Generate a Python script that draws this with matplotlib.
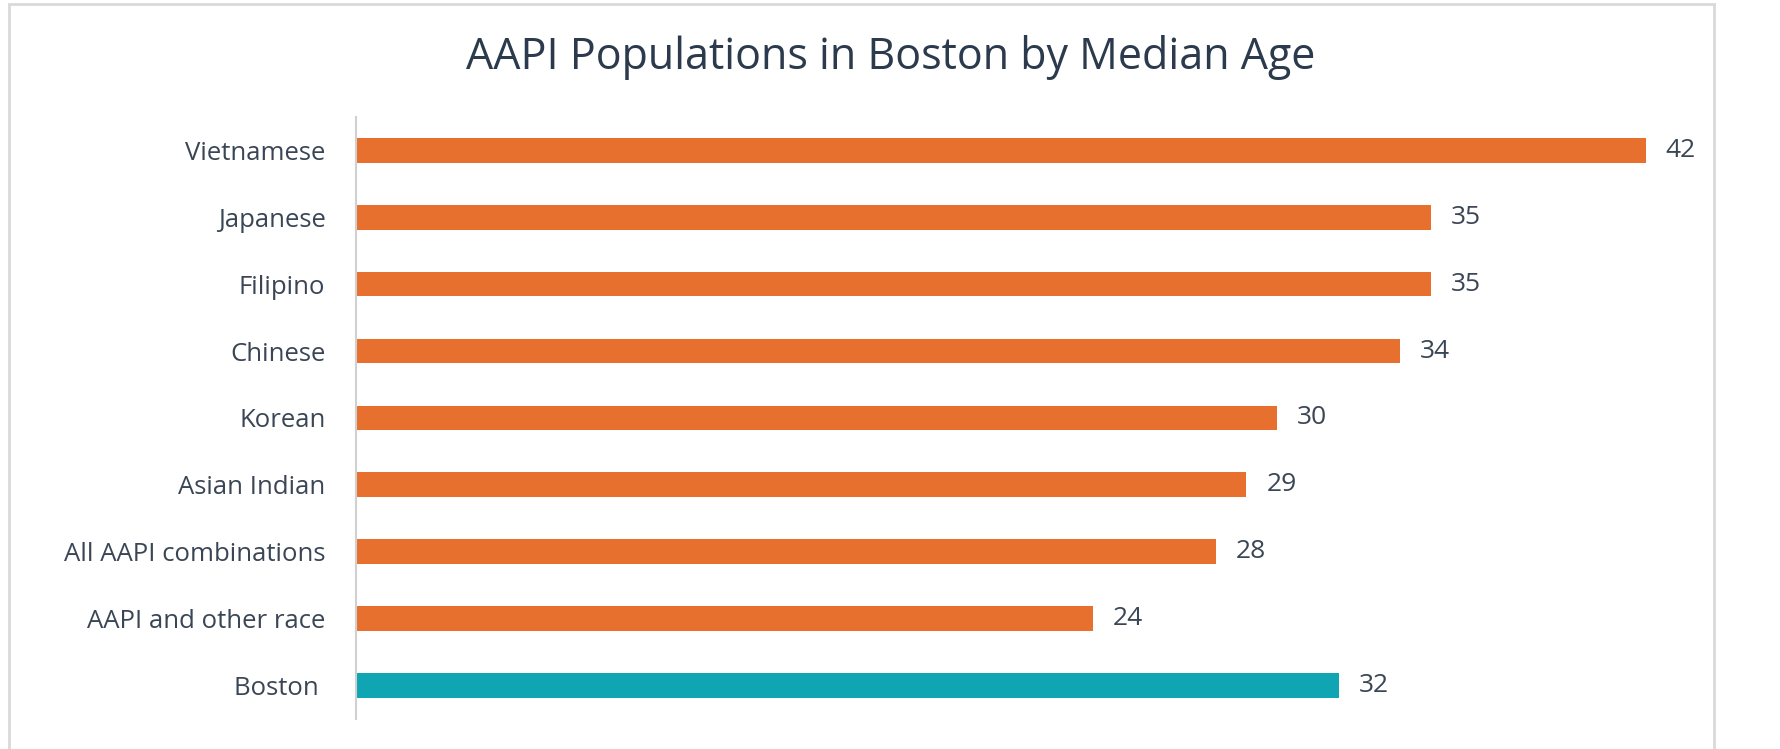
import matplotlib
matplotlib.use('Agg')
from matplotlib import pyplot as plt
from matplotlib.patches import Rectangle

# data (top to bottom as shown)
groups = ['Vietnamese', 'Japanese', 'Filipino', 'Chinese', 'Korean',
          'Asian Indian', 'All AAPI combinations', 'AAPI and other race', 'Boston ']
medianAge = [42, 35, 35, 34, 30, 29, 28, 24, 32]
barColors = ['#E8702F'] * 8 + ['#0FA5B3']

textColor = '#3A4655'
plt.rcParams['font.family'] = ['Open Sans', 'DejaVu Sans']

fig = plt.figure(figsize=(17.81, 7.49), dpi=100)
fig.patch.set_facecolor('white')

# light frame round the chart
fig.add_artist(Rectangle((9 / 1781, -0.01), 1705 / 1781, 1.0 - 4 / 749 + 0.01,
                         transform=fig.transFigure, fill=False,
                         edgecolor='#D9D9D9', linewidth=2))

fig.text(0.5, 1 - 69 / 749, 'AAPI Populations in Boston by Median Age',
         ha='center', va='baseline', fontsize=31, color='#2B3A4C')

ax = fig.add_axes([356 / 1781, 0.04, 1351 / 1781, 0.804])
pos = list(range(len(groups)))[::-1]
ax.barh(pos, medianAge, height=0.37, color=barColors)

for y, v in zip(pos, medianAge):
    ax.annotate(str(v), (v, y), xytext=(14.5, 0), textcoords='offset points',
                va='center', ha='left', fontsize=19, color=textColor)

ax.set_xlim(0, 44)
ax.set_ylim(-0.5, 8.5)
ax.set_yticks(pos)
ax.set_yticklabels(groups, fontsize=18.5, color=textColor)
ax.tick_params(axis='y', length=0, pad=22)
ax.set_xticks([])
for s in ['top', 'right', 'bottom']:
    ax.spines[s].set_visible(False)
ax.spines['left'].set_color('#D0D0D0')
ax.spines['left'].set_linewidth(1.5)

plt.savefig('out.png', dpi=100)
plt.close()
